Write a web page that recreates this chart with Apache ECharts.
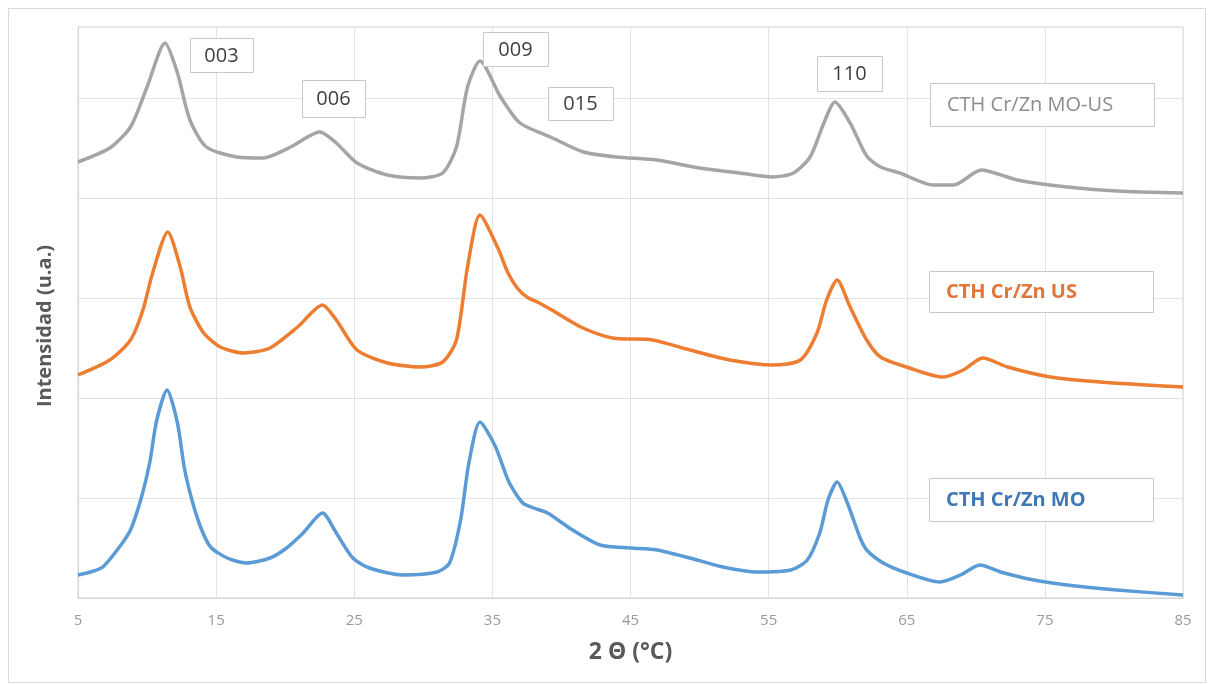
<!DOCTYPE html>
<html>
<head>
<meta charset="utf-8">
<script src="https://cdn.jsdelivr.net/npm/echarts@6/dist/echarts.min.js"></script>
<style>
  html, body { margin: 0; padding: 0; background: #ffffff; }
  #chart { width: 1215px; height: 685px; }
</style>
</head>
<body>
<div id="chart"></div>
<script>
// XRD patterns of the Cr/Zn hydrotalcite-like compounds: [2θ, intensity (a.u., stacked)]
const seriesNames = ['CTH Cr/Zn MO', 'CTH Cr/Zn US', 'CTH Cr/Zn MO-US'];

const patternMO = [
  [5, 0.23], [5.9, 0.26], [6.8, 0.31], [8, 0.51], [8.8, 0.68], [9.6, 1.01], [10.2, 1.36],
  [10.7, 1.78], [11.45, 2.08], [12.2, 1.75], [12.7, 1.30], [13.25, 0.98], [13.9, 0.70],
  [14.6, 0.51], [15.8, 0.40], [17.2, 0.35], [18.9, 0.40], [20.1, 0.50], [21.3, 0.65],
  [22.7, 0.85], [23.7, 0.65], [24.9, 0.40], [26.1, 0.30], [28.5, 0.23], [31, 0.26],
  [31.9, 0.35], [32.7, 0.78], [33.3, 1.35], [34.1, 1.76], [35.2, 1.52], [36.2, 1.16],
  [37.2, 0.95], [38, 0.90], [39, 0.85], [40.8, 0.68], [42.8, 0.53], [45, 0.50],
  [46.9, 0.48], [49.3, 0.40], [51.7, 0.31], [54.2, 0.26], [56.6, 0.28], [57.8, 0.38],
  [58.7, 0.65], [59.3, 0.98], [59.96, 1.16], [60.7, 0.95], [61.6, 0.61], [62.1, 0.48],
  [63.3, 0.35], [65, 0.25], [67.4, 0.16], [68.9, 0.23], [70.3, 0.33], [71.8, 0.26],
  [74.2, 0.18], [76.6, 0.13], [80.2, 0.08], [85, 0.03]
];

const patternUS = [
  [5, 2.23], [7.3, 2.38], [8.8, 2.58], [9.7, 2.88], [10.4, 3.25], [11.5, 3.66], [12.4, 3.31],
  [13.1, 2.91], [14.1, 2.65], [15.3, 2.51], [17, 2.45], [18.9, 2.50], [20.9, 2.71],
  [22.7, 2.93], [23.7, 2.78], [25.2, 2.48], [27.4, 2.35], [29.8, 2.31], [31.4, 2.36],
  [32.4, 2.58], [33.2, 3.31], [34.1, 3.83], [35.4, 3.50], [36.1, 3.26], [36.8, 3.10],
  [37.5, 3.01], [38.4, 2.95], [39.3, 2.88], [41.4, 2.71], [43.7, 2.60], [46.6, 2.58],
  [49.3, 2.48], [52.2, 2.38], [55.3, 2.33], [57.3, 2.38], [58.5, 2.65], [59.2, 2.98],
  [59.96, 3.18], [60.9, 2.91], [62.1, 2.58], [63.1, 2.41], [65.2, 2.30], [67.6, 2.21],
  [69.1, 2.28], [70.5, 2.40], [72.3, 2.31], [75.4, 2.21], [79, 2.16], [85, 2.11]
];

const patternMOUS = [
  [5, 4.36], [7.3, 4.50], [8.8, 4.71], [10, 5.11], [11.3, 5.55], [12.2, 5.25], [13.1, 4.78],
  [14.3, 4.51], [16.5, 4.41], [18.4, 4.40], [20.4, 4.51], [22.5, 4.66], [23.7, 4.55],
  [25.2, 4.35], [27.4, 4.23], [29.8, 4.20], [31.4, 4.25], [32.4, 4.51], [33.2, 5.11],
  [34.1, 5.37], [35.6, 5.01], [37, 4.75], [39.2, 4.61], [41.6, 4.46], [44, 4.41],
  [46.9, 4.38], [50, 4.30], [52.9, 4.25], [55.3, 4.21], [56.8, 4.25], [58, 4.41],
  [59, 4.75], [59.8, 4.96], [60.9, 4.75], [62.1, 4.42], [63.1, 4.31], [64.5, 4.25],
  [66.9, 4.13], [68.4, 4.13], [70.4, 4.28], [73, 4.18], [76.6, 4.11], [80.2, 4.07], [85, 4.05]
];

// Miller indices of the reflections
const reflectionLabels = ['003', '006', '009', '015', '110'];

const xTicks = [5, 15, 25, 35, 45, 55, 65, 75, 85];

const colors = { MO: '#5b9bd5', US: '#ed7d31', MOUS: '#a5a5a5' };
const FONT = '"Open Sans", "Noto Sans", sans-serif';

// framed text box (rect + text)
function box(x, y, w, h, text, color, weight, size, align) {
  const left = align === 'left';
  return {
    type: 'group',
    children: [
      { type: 'rect', shape: { x: x + 0.5, y: y + 0.5, width: w, height: h },
        style: { fill: '#ffffff', stroke: '#c8c8c8', lineWidth: 1 }, z: 10 },
      { type: 'text', x: left ? x + 17 : x + w / 2, y: y + h / 2 + 1, z: 11,
        style: { text: text, fill: color, font: weight + ' ' + size + 'px ' + FONT,
                 textAlign: left ? 'left' : 'center', textVerticalAlign: 'middle' } }
    ]
  };
}

const chart = echarts.init(document.getElementById('chart'));

const lineSeries = (name, data, color) => ({
  name: name,
  type: 'line',
  data: data,
  showSymbol: false,
  smooth: 0.25,
  lineStyle: { color: color, width: 3.5 },
  itemStyle: { color: color },
  z: 5
});

chart.setOption({
  animation: false,
  backgroundColor: '#ffffff',
  grid: { left: 78, right: 32, top: 27, bottom: 87, show: true, borderColor: '#d4d4d4', borderWidth: 1 },
  xAxis: {
    type: 'value', min: 5, max: 85, interval: 10,
    name: '2 \u0398 (\u00b0C)', nameLocation: 'middle', nameGap: 43,
    nameTextStyle: { fontFamily: FONT, fontSize: 23, fontWeight: 'bold', color: '#595959' },
    axisLine: { show: true, lineStyle: { color: '#d4d4d4' } },
    axisTick: { show: false },
    axisLabel: { fontFamily: FONT, fontSize: 15, color: '#9a9a9a', margin: 15,
                 formatter: v => (xTicks.indexOf(v) >= 0 ? String(v) : '') },
    splitLine: { show: true, lineStyle: { color: '#e3e3e3' } }
  },
  yAxis: {
    type: 'value', min: 0, max: 5.71, interval: 1,
    axisLine: { show: true, lineStyle: { color: '#d4d4d4' } },
    axisTick: { show: false },
    axisLabel: { show: false },
    splitLine: { show: true, lineStyle: { color: '#e3e3e3' } }
  },
  series: [
    lineSeries(seriesNames[0], patternMO, colors.MO),
    lineSeries(seriesNames[1], patternUS, colors.US),
    lineSeries(seriesNames[2], patternMOUS, colors.MOUS)
  ],
  graphic: [
    { type: 'rect', shape: { x: 8.5, y: 8.5, width: 1197, height: 674 },
      style: { fill: 'none', stroke: '#d9d9d9', lineWidth: 1 }, silent: true, z: 0 },
    { type: 'text', x: 45, y: 326, rotation: Math.PI / 2, z: 11,
      style: { text: 'Intensidad (u.a.)', fill: '#595959', font: 'bold 20px ' + FONT,
               textAlign: 'center', textVerticalAlign: 'middle' } },
    box(190, 38, 63, 34, reflectionLabels[0], '#404040', 'normal', 20, 'center'),
    box(302, 80, 63, 37, reflectionLabels[1], '#404040', 'normal', 20, 'center'),
    box(483, 32, 65, 34, reflectionLabels[2], '#404040', 'normal', 20, 'center'),
    box(548, 87, 65, 33, reflectionLabels[3], '#404040', 'normal', 20, 'center'),
    box(817, 56, 65, 35, reflectionLabels[4], '#404040', 'normal', 20, 'center'),
    box(930, 83, 224, 43, seriesNames[2], '#8c8c8c', 'normal', 20, 'left'),
    box(929, 271, 224, 41, seriesNames[1], '#e0763a', 'bold', 20, 'left'),
    box(929, 478, 224, 43, seriesNames[0], '#3f78b4', 'bold', 20, 'left')
  ]
});
</script>
</body>
</html>
